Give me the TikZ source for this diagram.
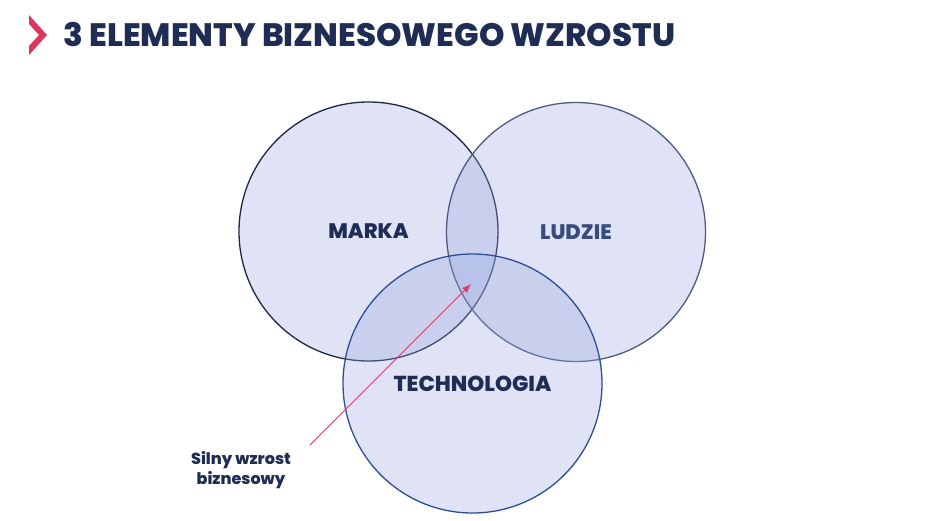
\documentclass[tikz,border=0pt]{standalone}
\usepackage{fontspec}
\setmainfont{Poppins}[BoldFont={Poppins ExtraBold}]
\usepackage{tikz}
\usetikzlibrary{arrows.meta,positioning,calc}
\definecolor{navy}{RGB}{31,45,85}
\definecolor{navylight}{RGB}{58,76,126}
\definecolor{ringfill}{RGB}{150,165,222}
\definecolor{chevred}{RGB}{217,56,90}
\definecolor{arrowred}{RGB}{214,60,110}
\tikzstyle{ring} = [circle, minimum size=259pt, inner sep=0pt, fill=ringfill, fill opacity=0.3, line width=1.3pt]
\tikzstyle{label} = [font=\bfseries\fontsize{21}{25}\selectfont]
\tikzset{>=latex}

\begin{document}
\begin{tikzpicture}[x=1pt,y=-1pt]
      \useasboundingbox [fill=white] (0,0) rectangle (943,520);

      % title
      \fill [chevred] (29,15) -- (47,35) -- (29,55) -- (29,46) -- (39,35) -- (29,24) -- cycle;
      \node [anchor=west, text=navy, font=\bfseries\fontsize{32.4}{37}\selectfont] (title) at (60,35) {3 ELEMENTY BIZNESOWEGO WZROSTU};

      % circles
      \node [ring, draw={rgb,255:red,30;green,38;blue,70}] (marka) at (368.5,231.5) {};
      \node [ring, draw={rgb,255:red,78;green,92;blue,130}] (ludzie) at (576,232) {};
      \node [ring, draw={rgb,255:red,47;green,77;blue,149}] (tech) at (472.5,383.5) {};

      \node [label, text=navy] at (marka) {MARKA};
      \node [label, text=navylight] at (ludzie) {LUDZIE};
      \node [label, text=navy, font=\bfseries\fontsize{21.6}{25}\selectfont] at (tech) {TECHNOLOGIA};

      % pointer
      \node [align=center, text=navy, font=\bfseries\fontsize{16}{20}\selectfont] (growth) at (241,470) {Silny wzrost\\biznesowy};
      \coordinate (tail) at (310,445);
      \coordinate (tip) at (471,284);
      \draw [->, arrowred, line width=0.8pt, >={Latex[length=9pt,width=7pt]}] (tail) -- (tip);
    \end{tikzpicture}
\end{document}
